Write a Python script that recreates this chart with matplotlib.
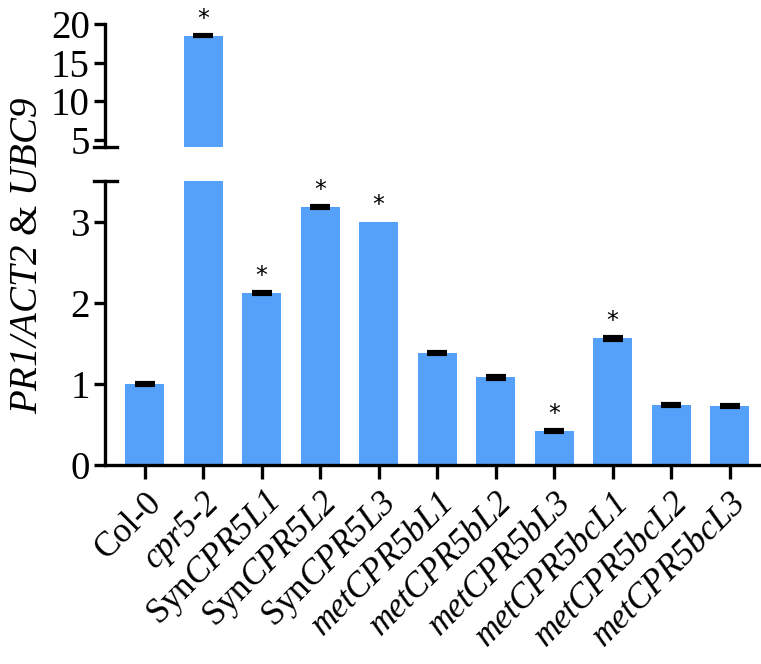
import numpy as np
import matplotlib.pyplot as plt

plt.rcParams['font.family'] = 'Liberation Serif'
plt.rcParams['mathtext.fontset'] = 'custom'
plt.rcParams['mathtext.rm'] = 'Liberation Serif:italic'
plt.rcParams['mathtext.it'] = 'Liberation Serif:italic'
plt.rcParams['mathtext.default'] = 'it'

labels = ['Col-0', 'cpr5-2', r'Syn$CPR5L1$', r'Syn$CPR5L2$', r'Syn$CPR5L3$',
          'metCPR5bL1', 'metCPR5bL2', 'metCPR5bL3',
          'metCPR5bcL1', 'metCPR5bcL2', 'metCPR5bcL3']
italic = [False, True, False, False, False, True, True, True, True, True, True]
values = [1.0, 18.5, 2.12, 3.18, 3.0, 1.38, 1.08, 0.42, 1.56, 0.74, 0.73]
errors = [0.015, 0.08, 0.015, 0.015, np.nan, 0.015, 0.015, 0.015, 0.015, 0.01, 0.01]
signif = [False, True, True, True, True, False, False, True, True, False, False]

color = '#55a1f9'
fs = 28
lw = 2.4

fig = plt.figure(figsize=(7.61, 6.64), dpi=100)
left, right = 105/761, 760/761
ax_lo = fig.add_axes([left, 1 - 465/664, right - left, (465 - 181)/664])
ax_hi = fig.add_axes([left, 1 - 147/664, right - left, (147 - 24)/664])

x = np.arange(len(values))
for ax in (ax_lo, ax_hi):
    ax.bar(x, values, width=0.67, color=color, zorder=1)
    ax.errorbar(x, values, yerr=errors, fmt='none', ecolor='black', elinewidth=2,
                capsize=7, capthick=3, zorder=2)
    ax.set_xlim(-0.68, 10.52)
    for s in ('top', 'right'):
        ax.spines[s].set_visible(False)
    ax.spines['left'].set_linewidth(lw)
    ax.spines['bottom'].set_linewidth(lw)
    ax.tick_params(width=lw, length=8, labelsize=fs, pad=3)

ax_lo.set_ylim(0, 3.5)
ax_lo.set_yticks([0, 1, 2, 3])
ax_lo.set_xticks(x)
ticklabels = ax_lo.set_xticklabels(labels, rotation=45, ha='right', rotation_mode='anchor', fontsize=25)
for t, it in zip(ticklabels, italic):
    if it:
        t.set_fontstyle('italic')
ax_lo.tick_params(axis='x', length=10, pad=5)

ax_hi.set_ylim(4.1, 20)
ax_hi.set_yticks([5, 10, 15, 20])
ax_hi.spines['bottom'].set_visible(False)
ax_hi.set_xticks([])

# break marks
w = 655
ax_hi.plot([-11/w, 12/w], [0, 0], color='black', lw=lw, transform=ax_hi.transAxes, clip_on=False)
ax_lo.plot([-11/w, 12/w], [1, 1], color='black', lw=lw, transform=ax_lo.transAxes, clip_on=False)

# significance stars
for i, v in enumerate(values):
    if not signif[i]:
        continue
    ax = ax_hi if v > 3.5 else ax_lo
    top = v + (0 if np.isnan(errors[i]) else errors[i])
    ax.annotate('*', (x[i], top), xytext=(0, 3), textcoords='offset points',
                ha='center', va='bottom', fontsize=17, family='DejaVu Sans',
                annotation_clip=False)

fig.text(28/761, 1 - 256/664, r'$PR1/ACT2$ & $UBC9$', rotation=90,
         ha='center', va='center', fontsize=fs)

fig.savefig('out.png', dpi=100)
